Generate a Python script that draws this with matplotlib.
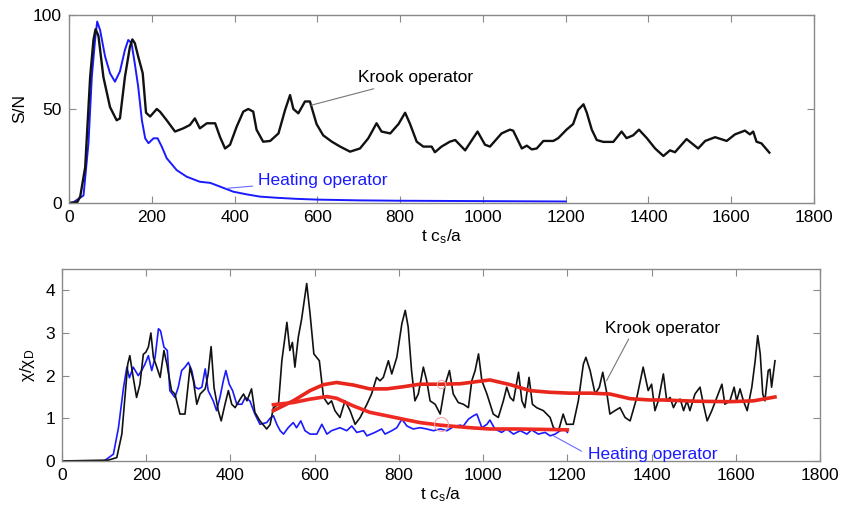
import matplotlib
matplotlib.use("Agg")
import matplotlib.pyplot as plt

plt.rcParams['font.family'] = ['Liberation Sans', 'DejaVu Sans']
plt.rcParams['mathtext.default'] = 'regular'

# ---- top panel: S/N ----
t_krook_sn = [0, 20, 27, 39, 51, 59, 64, 71, 83, 99, 115, 123, 135, 147, 153, 159, 167, 178, 186, 196,
              212, 220, 236, 256, 276, 292, 304, 316, 333, 353, 365, 377, 389, 405, 421, 433, 445, 453,
              469, 486, 506, 522, 534, 542, 554, 570, 582, 598, 614, 635, 655, 679, 703, 723, 743, 755,
              776, 796, 812, 824, 840, 856, 876, 884, 900, 920, 933, 957, 987, 1005, 1017, 1045, 1065,
              1073, 1094, 1106, 1118, 1130, 1146, 1170, 1182, 1202, 1218, 1230, 1243, 1251, 1263, 1275,
              1291, 1315, 1335, 1347, 1363, 1377, 1396, 1416, 1436, 1452, 1464, 1492, 1520, 1537, 1561,
              1589, 1609, 1633, 1645, 1653, 1661, 1673, 1692]
krook_sn = [0, 0.5, 3.4, 19, 67, 86.7, 92.4, 89, 67, 51, 44, 45, 67, 83, 87, 85, 78, 69, 48, 46,
            50, 48.5, 44, 38, 39.7, 41.5, 45, 39.7, 42.4, 42.4, 35, 29, 31, 40.6, 48.6, 50, 48.6, 39,
            32.6, 33, 37, 49.5, 57.4, 50, 47.7, 54, 54, 42, 36, 32.6, 30, 27.3, 29, 34.4, 42.4, 38,
            37, 42, 48, 42, 32.6, 30, 30, 27, 30, 32.6, 33.5, 28, 38, 31, 30, 37, 39,
            38.5, 29, 30.5, 28.5, 29, 33, 33, 34.5, 39, 42, 49.5, 52.5, 48, 39, 33.5,
            32.5, 32.5, 38, 34.5, 36, 39, 34.5, 29, 25, 28, 27, 34, 29, 33, 35,
            33, 36.5, 38.5, 36.5, 38, 32.6, 31.7, 26.8]

t_heat_sn = [0, 10, 35, 47, 55, 63, 68, 75, 87, 99, 111, 123, 135, 143, 151, 159, 167, 176, 184, 192,
             204, 214, 224, 236, 260, 284, 316, 341, 365, 397, 429, 461, 500, 550, 600, 700, 800, 900,
             1000, 1100, 1200]
heat_sn = [0, 0.3, 4, 32, 67, 87, 96.5, 92, 78, 69, 64.5, 70, 81.4, 86.7, 85, 74, 62, 44, 34.4, 31.8,
           34.4, 34.4, 30, 23.8, 17.5, 14, 11.3, 10.7, 8.7, 6, 4.6, 3.4, 2.8, 2.2, 1.8, 1.4, 1.2, 1.1,
           1.0, 0.9, 0.8]

# ---- bottom panel: chi / chi_D ----
t_krook_chi = [0, 110, 130, 142, 150, 156, 161, 169, 177, 185, 193, 199, 205, 211, 217, 225, 233, 242,
               249, 260, 268, 280, 292, 304, 312, 320, 328, 340, 347, 354, 361, 371, 378, 387, 395, 403,
               411, 423, 431, 439, 450, 458, 470, 486, 494, 502, 514, 522, 534, 541, 547, 553, 561, 569,
               581, 589, 598, 611, 621, 632, 640, 648, 660, 672, 684, 696, 708, 724, 735, 747, 755, 763,
               775, 783, 795, 807, 815, 822, 830, 838, 846, 858, 866, 874, 886, 898, 910, 920, 929, 941,
               953, 965, 973, 981, 989, 997, 1009, 1024, 1036, 1048, 1056, 1064, 1072, 1084, 1092, 1099,
               1109, 1117, 1127, 1143, 1159, 1167, 1179, 1190, 1198, 1214, 1226, 1238, 1244, 1254, 1266,
               1276, 1284, 1294, 1301, 1313, 1325, 1337, 1349, 1365, 1380, 1392, 1400, 1408, 1416, 1428,
               1436, 1444, 1452, 1460, 1468, 1476, 1484, 1491, 1503, 1515, 1523, 1532, 1543, 1555, 1567,
               1574, 1586, 1596, 1602, 1610, 1618, 1627, 1638, 1646, 1652, 1658, 1664, 1669, 1677, 1681,
               1685, 1693]
krook_chi = [0, 0.02, 0.08, 0.63, 1.57, 2.27, 2.47, 1.96, 1.49, 1.8, 2.5, 2.55, 2.67, 3.0, 2.43, 2.2, 1.96, 2.59,
             2.27, 1.65, 1.57, 1.1, 1.1, 2.2, 1.88, 1.33, 1.57, 1.69, 2.04, 2.68, 1.72, 1.18, 0.94, 1.33, 1.65, 1.33,
             1.25, 1.45, 1.57, 1.41, 1.69, 1.14, 0.94, 0.75, 0.85, 1.25, 1.33, 2.35, 3.25, 2.59, 2.78, 2.2, 2.9, 3.33,
             4.16, 3.45, 2.51, 2.35, 1.49, 1.33, 1.41, 1.18, 1.02, 1.41, 1.18, 0.86, 1.02, 1.33, 1.57, 1.96, 1.88, 1.96,
             2.35, 2.04, 2.43, 3.22, 3.53, 3.14, 2.12, 1.41, 1.57, 2.2, 1.88, 1.41, 1.33, 1.1, 1.8, 2.12, 1.57, 1.37,
             1.33, 1.25, 1.88, 2.12, 2.51, 1.88, 1.57, 1.1, 1.02, 1.41, 1.73, 1.49, 1.41, 2.08, 1.41, 1.25,
             1.96, 1.33, 1.25, 1.18, 1.02, 0.78, 0.71, 1.1, 0.86, 0.86, 1.41, 2.27, 2.43, 2.12, 1.57,
             1.73, 2.08, 1.57, 1.1, 1.18, 1.25, 1.02, 0.94, 1.49, 2.2, 1.65, 1.8, 1.18, 1.41, 2.04,
             1.41, 1.49, 1.25, 1.41, 1.45, 1.18, 1.41, 1.18, 1.57, 1.73, 1.33, 0.94, 1.18, 1.49, 1.8,
             1.33, 1.41, 1.73, 1.41, 1.69, 1.41, 1.18, 1.73, 2.35, 2.94, 2.51, 1.57, 1.41, 2.12, 2.15,
             1.73, 2.35]

t_heat_chi = [0, 100, 122, 134, 146, 154, 160, 169, 181, 189, 197, 205, 213, 221, 229, 234, 242, 250, 256,
              268, 276, 284, 292, 300, 308, 316, 324, 332, 340, 347, 359, 367, 375, 383, 389, 397, 405, 415,
              427, 435, 446, 458, 470, 486, 494, 502, 510, 518, 526, 537, 549, 557, 567, 577, 589, 605, 617,
              629, 640, 660, 676, 688, 700, 716, 724, 743, 759, 767, 783, 795, 807, 819, 834, 850, 866, 882,
              898, 914, 929, 945, 953, 965, 977, 985, 997, 1009, 1016, 1028, 1044, 1056, 1072, 1088, 1104,
              1115, 1131, 1147, 1159, 1171, 1183, 1194, 1200]
heat_chi = [0, 0, 0.16, 0.78, 1.72, 2.2, 1.95, 2.2, 2.0, 2.12, 2.27, 2.47, 2.12, 2.43, 3.1, 3.05, 2.67, 2.59, 1.65,
            1.49, 1.73, 2.12, 2.2, 2.31, 2.12, 1.73, 1.69, 1.73, 2.16, 1.65, 1.41, 1.18, 1.49, 1.88, 2.12, 1.8, 1.65, 1.33,
            1.33, 1.49, 1.41, 1.1, 0.86, 0.9, 1.0, 1.06, 0.86, 0.71, 0.63, 0.78, 0.9, 0.78, 0.94, 0.71, 0.63, 0.63, 0.86,
            0.63, 0.71, 0.78, 0.71, 0.82, 0.67, 0.71, 0.59, 0.67, 0.75, 0.63, 0.71, 0.78, 0.98, 0.82, 0.75, 0.78, 0.75, 0.71,
            0.75, 0.71, 0.8, 0.84, 0.82, 0.98, 1.06, 1.1, 0.78, 0.86, 0.96, 0.75, 0.67, 0.75, 0.63, 0.71, 0.63,
            0.73, 0.63, 0.67, 0.59, 0.63, 0.71, 0.75, 0.67]

# running averages (red)
t_krook_avg = [502, 549, 589, 621, 652, 692, 731, 771, 810, 850, 898, 945, 969, 1016, 1064, 1111, 1159,
               1206, 1254, 1301, 1349, 1396, 1428, 1507, 1586, 1642, 1693]
krook_avg = [1.18, 1.41, 1.65, 1.79, 1.84, 1.78, 1.69, 1.69, 1.74, 1.8, 1.8, 1.81, 1.84, 1.9, 1.79, 1.65, 1.61,
             1.59, 1.59, 1.57, 1.46, 1.43, 1.43, 1.4, 1.39, 1.41, 1.5]
t_heat_avg = [502, 549, 589, 629, 652, 692, 731, 771, 810, 850, 898, 945, 969, 1016, 1080, 1143, 1200]
heat_avg = [1.32, 1.37, 1.45, 1.51, 1.47, 1.29, 1.14, 1.06, 0.98, 0.9, 0.84, 0.8, 0.78, 0.75, 0.75, 0.74, 0.73]

xticks = [0, 200, 400, 600, 800, 1000, 1200, 1400, 1600, 1800]
FS = 12.5

fig = plt.figure(figsize=(8.44, 5.13), dpi=100)
ax1 = fig.add_axes([0.0818, 0.6043, 0.8827, 0.3665])
ax2 = fig.add_axes([0.0735, 0.1014, 0.8981, 0.3742])

for ax in (ax1, ax2):
    for s in ax.spines.values():
        s.set_color('#8a8a8a')
        s.set_linewidth(1.0)
    ax.tick_params(direction='in', top=True, right=True, length=5, color='#8a8a8a',
                   labelsize=FS, pad=5)
    ax.set_xlim(0, 1800)
    ax.set_xticks(xticks)
    ax.set_xlabel('t c$_s$/a', fontsize=FS, labelpad=2)

# top
ax1.plot(t_heat_sn, heat_sn, color='#1a1aff', lw=1.4)
ax1.plot(t_krook_sn, krook_sn, color='#111111', lw=1.7)
ax1.set_ylim(0, 100)
ax1.set_yticks([0, 50, 100])
ax1.set_ylabel('S/N', fontsize=FS, labelpad=4)
ax1.annotate('Krook operator', xy=(585, 52), xytext=(698, 66.6), fontsize=FS, color='black',
             ha='left', va='center',
             arrowprops=dict(arrowstyle='-', color='#777777', lw=0.8, shrinkA=2, shrinkB=0))
ax1.annotate('Heating operator', xy=(381, 7.8), xytext=(457, 12.2), fontsize=FS, color='#1a1aff',
             ha='left', va='center',
             arrowprops=dict(arrowstyle='-', color='#6a6aff', lw=0.8, shrinkA=2, shrinkB=0))

# bottom
ax2.plot(t_heat_chi, heat_chi, color='#1a1aff', lw=1.2)
ax2.plot(t_krook_chi, krook_chi, color='#111111', lw=1.2)
ax2.plot(t_krook_avg, krook_avg, color='#e8261c', lw=2.6)
ax2.plot(t_heat_avg, heat_avg, color='#ee2a22', lw=2.6)
ax2.plot([899], [1.8], marker='o', ms=6, mfc='none', mec='#f4a6a6', mew=0.8)
ax2.plot([899], [0.86], marker='o', ms=10, mfc='none', mec='#f4a6a6', mew=0.8)
ax2.set_ylim(0, 4.5)
ax2.set_yticks([0, 1, 2, 3, 4])
ax2.set_ylabel('χ/χ$_D$', fontsize=FS, labelpad=6)
ax2.annotate('Krook operator', xy=(1293, 1.88), xytext=(1289, 3.1), fontsize=FS, color='black',
             ha='left', va='center',
             arrowprops=dict(arrowstyle='-', color='#777777', lw=0.8, shrinkA=0, shrinkB=0,
                             relpos=(0.22, 0.0)))
ax2.annotate('Heating operator', xy=(1167, 0.59), xytext=(1249, 0.16), fontsize=FS, color='#1a1aff',
             ha='left', va='center',
             arrowprops=dict(arrowstyle='-', color='#6a6aff', lw=0.8, shrinkA=0, shrinkB=0,
                             relpos=(-0.05, 0.7)))

fig.savefig('out.png', dpi=100)
